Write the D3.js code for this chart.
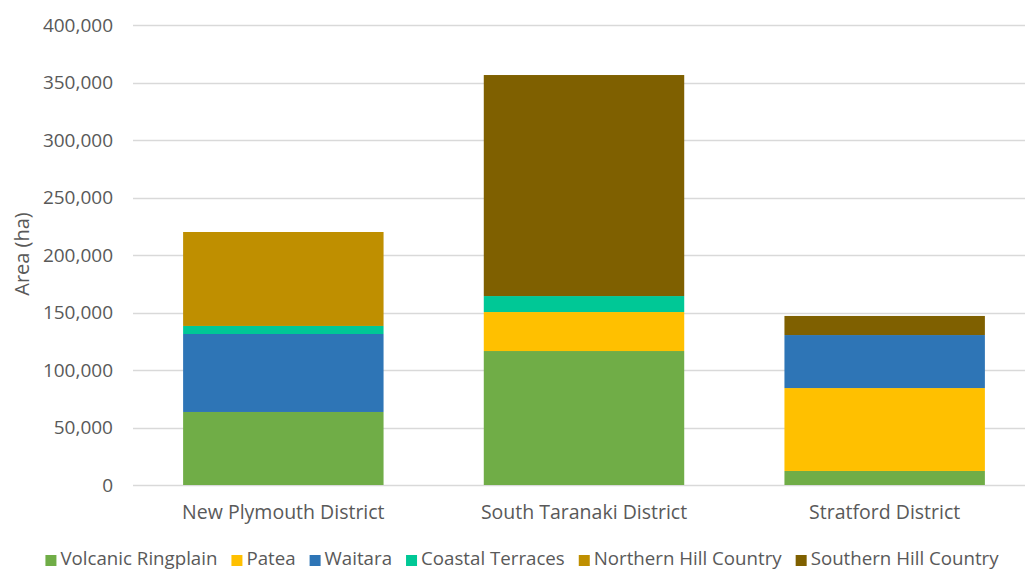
<!DOCTYPE html>
<html>
<head>
<meta charset="utf-8">
<script src="https://cdn.jsdelivr.net/npm/d3@7"></script>
<style>
  html, body { margin: 0; padding: 0; background: #fff; overflow: hidden; }
  svg { display: block; }
  text { font-family: "Open Sans", Lato, sans-serif; fill: #595959; }
</style>
</head>
<body>
<div id="chart-container"></div>
<script>
// districten en gebieden (ha)
const districts = ['New Plymouth District', 'South Taranaki District', 'Stratford District']
const seriesNames = ['Volcanic Ringplain', 'Patea', 'Waitara', 'Coastal Terraces', 'Northern Hill Country', 'Southern Hill Country']
const volcanicRingplain = [63500, 116500, 12200]
const patea = [0, 33900, 72100]
const waitara = [67800, 0, 46100]
const coastalTerraces = [7000, 13900, 0]
const northernHillCountry = [81700, 0, 0]
const southernHillCountry = [0, 192200, 16600]
const colors = ['#70AD47', '#FFC000', '#2E75B6', '#00C896', '#BF8F00', '#7F6000']
const yTicks = [0, 50000, 100000, 150000, 200000, 250000, 300000, 350000, 400000]

const width = 1025
const height = 571
const margin = { top: 25, right: 0, bottom: 86, left: 133 }
const innerWidth = width - margin.left - margin.right
const innerHeight = height - margin.top - margin.bottom

// tabel voor d3.stack
const allSeries = [volcanicRingplain, patea, waitara, coastalTerraces, northernHillCountry, southernHillCountry]
const table = districts.map((d, i) => {
    const row = { district: d }
    seriesNames.forEach((s, j) => { row[s] = allSeries[j][i] })
    return row
})
const stacked = d3.stack().keys(seriesNames)(table)

const svg = d3.select('#chart-container').append('svg')
    .attr('width', width)
    .attr('height', height)

const g = svg.append('g')
    .attr('transform', `translate(${margin.left}, ${margin.top})`)

// plot loopt iets voorbij de rechterrand (zoals in het origineel)
const xScale = d3.scaleBand()
    .domain(districts)
    .range([0, innerWidth + 10])
    .paddingInner(1 / 3)
    .paddingOuter(1 / 6)

const yScale = d3.scaleLinear()
    .domain([0, 400000])
    .range([innerHeight, 0])

// gridlijnen
g.selectAll('.grid')
    .data(yTicks)
    .enter()
    .append('line')
    .attr('x1', 0)
    .attr('x2', innerWidth)
    .attr('y1', d => Math.round(yScale(d)) + 0.5)
    .attr('y2', d => Math.round(yScale(d)) + 0.5)
    .attr('stroke', '#D9D9D9')
    .attr('stroke-width', 1.3)

// y as labels
const yAxis = g.append('g')
    .call(d3.axisLeft(yScale).tickValues(yTicks).tickFormat(d3.format(',')).tickSize(0).tickPadding(20))
yAxis.select('.domain').remove()
yAxis.selectAll('text').style('font-size', '19px').attr('fill', '#595959')

// bars
g.selectAll('.serie')
    .data(stacked)
    .enter()
    .append('g')
    .attr('fill', (d, i) => colors[i])
    .selectAll('rect')
    .data(d => d)
    .enter()
    .append('rect')
    .attr('x', d => xScale(d.data.district))
    .attr('y', d => yScale(d[1]))
    .attr('width', xScale.bandwidth())
    .attr('height', d => yScale(d[0]) - yScale(d[1]))

// x as labels
const xAxis = g.append('g')
    .attr('transform', `translate(0, ${innerHeight})`)
    .call(d3.axisBottom(xScale).tickSize(0).tickPadding(20))
xAxis.select('.domain').remove()
xAxis.selectAll('text').style('font-size', '19.5px').attr('fill', '#595959')

// y as titel
svg.append('text')
    .attr('transform', 'translate(29, 254) rotate(-90)')
    .attr('text-anchor', 'middle')
    .style('font-size', '20px')
    .text('Area (ha)')

// legenda
const legend = svg.append('g').attr('transform', 'translate(0, 565)')
const items = legend.selectAll('g')
    .data(seriesNames)
    .enter()
    .append('g')
items.append('rect')
    .attr('width', 11)
    .attr('height', 11)
    .attr('y', -10)
    .attr('fill', (d, i) => colors[i])
items.append('text')
    .attr('x', 15)
    .attr('y', 0)
    .style('font-size', '18.7px')
    .text(d => d)

let xPos = 0
const positions = []
items.each(function () {
    positions.push(xPos)
    xPos += 15 + this.querySelector('text').getComputedTextLength() + 14
})
const totalWidth = xPos - 14
const startX = 522 - totalWidth / 2
items.attr('transform', (d, i) => `translate(${startX + positions[i]}, 0)`)
</script>
</body>
</html>
